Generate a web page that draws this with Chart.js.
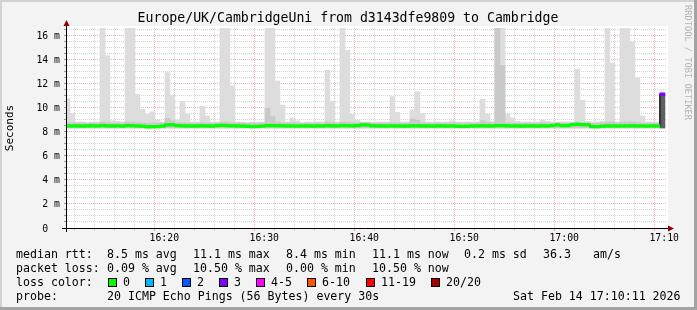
<!DOCTYPE html>
<html>
<head>
<meta charset="utf-8">
<script src="https://cdn.jsdelivr.net/npm/chart.js@4.4.1/dist/chart.umd.min.js"></script>
<style>
html, body { margin: 0; padding: 0; background: #f3f3f3; }
canvas { display: block; }
</style>
</head>
<body>
<canvas id="grafico" width="697" height="310"></canvas>
<script>
const titulo = 'Europe/UK/CambridgeUni from d3143dfe9809 to Cambridge';

// eixo do tempo em minutos depois das 16:10, um bin a cada 30 s
const tempoMin = 0.27;
const tempoMax = 60.28;
const primeiroBin = 0.32;
const passoBin = 0.5;

const yMax = 16.6;
const fumoMin = 8.3;

// topo do fumo claro (ms)
const fumoMax = [
    10.75, 9.5, 8.8, 8.8, 8.75, 8.8, 8.8, 17, 14.3, 8.9,
    8.85, 8.8, 17, 17, 11.1, 9.85, 9.45, 9.65, 8.95, 8.8,
    12.9, 11.0, 8.95, 10.5, 9.45, 8.8, 8.8, 10.1, 9.3, 8.8,
    8.8, 17, 17, 11.8, 8.8, 8.8, 8.75, 8.8, 8.8, 8.8,
    17, 17, 12.2, 10.2, 8.8, 9.15, 8.9, 8.75, 8.8, 8.8,
    8.8, 8.8, 13.1, 10.5, 8.8, 17, 14.75, 9.45, 8.95, 8.8,
    8.8, 8.8, 8.8, 8.8, 8.8, 10.9, 9.6, 8.8, 8.8, 9.8,
    11.3, 9.5, 8.8, 8.8, 8.8, 8.8, 8.8, 8.9, 8.8, 8.8,
    8.8, 8.8, 8.8, 10.7, 9.45, 8.85, 17, 17, 9.45, 9.15,
    8.85, 8.8, 8.8, 8.8, 8.8, 8.95, 8.85, 8.8, 8.8, 8.8,
    8.8, 8.8, 13.2, 10.6, 8.85, 8.8, 8.8, 8.85, 17, 13.7,
    8.8, 17, 17, 15.45, 12.45, 9.3, 8.8, 8.8, 8.8, 11.3
];

// topo do fumo mais escuro (ms)
const fumoMeio = [
    8.75, 8.72, 8.7, 8.72, 8.7, 8.72, 8.72, 8.8, 8.75, 8.72,
    8.72, 8.7, 8.8, 8.8, 8.75, 8.72, 8.7, 8.72, 8.7, 8.72,
    9.1, 8.9, 8.72, 8.75, 8.72, 8.7, 8.72, 8.75, 8.72, 8.7,
    8.72, 8.8, 8.8, 8.75, 8.72, 8.7, 8.7, 8.72, 8.7, 8.72,
    9.95, 9.25, 8.8, 8.75, 8.72, 8.75, 8.72, 8.7, 8.72, 8.7,
    8.72, 8.7, 8.8, 8.75, 8.72, 8.8, 8.8, 8.75, 8.72, 8.75,
    8.75, 8.72, 8.7, 8.72, 8.7, 8.75, 8.72, 8.7, 8.72, 9.05,
    8.95, 8.75, 8.72, 8.7, 8.72, 8.7, 8.72, 8.75, 8.72, 8.7,
    8.72, 8.7, 8.72, 8.9, 8.8, 8.72, 17, 13.5, 8.75, 8.72,
    8.72, 8.7, 8.72, 8.7, 8.72, 8.75, 8.72, 8.7, 8.75, 8.72,
    8.72, 8.75, 8.8, 8.75, 8.75, 8.7, 8.7, 8.72, 8.8, 8.8,
    8.72, 8.8, 8.8, 8.8, 8.75, 8.72, 8.7, 8.72, 8.7, 11.0
];

// rtt mediano (ms)
const mediana = [
    8.48, 8.47, 8.47, 8.46, 8.47, 8.48, 8.47, 8.5, 8.48, 8.47,
    8.47, 8.46, 8.5, 8.49, 8.47, 8.45, 8.4, 8.41, 8.42, 8.46,
    8.56, 8.57, 8.5, 8.48, 8.47, 8.46, 8.47, 8.48, 8.47, 8.46,
    8.5, 8.52, 8.5, 8.48, 8.47, 8.46, 8.44, 8.42, 8.43, 8.46,
    8.5, 8.5, 8.49, 8.48, 8.47, 8.47, 8.46, 8.47, 8.47, 8.46,
    8.47, 8.47, 8.49, 8.48, 8.47, 8.5, 8.49, 8.48, 8.5, 8.56,
    8.55, 8.48, 8.47, 8.47, 8.46, 8.47, 8.47, 8.46, 8.46, 8.48,
    8.48, 8.47, 8.47, 8.46, 8.47, 8.47, 8.46, 8.47, 8.44, 8.43,
    8.44, 8.46, 8.47, 8.48, 8.47, 8.47, 8.5, 8.5, 8.48, 8.47,
    8.47, 8.46, 8.47, 8.47, 8.46, 8.48, 8.47, 8.5, 8.56, 8.5,
    8.5, 8.58, 8.6, 8.58, 8.57, 8.42, 8.41, 8.45, 8.47, 8.47,
    8.46, 8.47, 8.48, 8.48, 8.47, 8.47, 8.46, 8.47, 8.47, 11.1
];

// nivel de perda de cada bin (indice em perdaCores)
const perda = [
    0, 0, 0, 0, 0, 0, 0, 0, 0, 0,
    0, 0, 0, 0, 0, 0, 0, 0, 0, 0,
    0, 0, 0, 0, 0, 0, 0, 0, 0, 0,
    0, 0, 0, 0, 0, 0, 0, 0, 0, 0,
    0, 0, 0, 0, 0, 0, 0, 0, 0, 0,
    0, 0, 0, 0, 0, 0, 0, 0, 0, 0,
    0, 0, 0, 0, 0, 0, 0, 0, 0, 0,
    0, 0, 0, 0, 0, 0, 0, 0, 0, 0,
    0, 0, 0, 0, 0, 0, 0, 0, 0, 0,
    0, 0, 0, 0, 0, 0, 0, 0, 0, 0,
    0, 0, 0, 0, 0, 0, 0, 0, 0, 0,
    0, 0, 0, 0, 0, 0, 0, 0, 0, 3
];

const perdaRotulos = ['0', '1', '2', '3', '4-5', '6-10', '11-19', '20/20'];
const perdaCores = ['#00ff00', '#00b8ff', '#0059ff', '#7e00ff', '#ff00ff', '#ff5500', '#ff0000', '#a10000'];
const perdaX = [108, 145, 182, 219, 256, 307, 366, 431];

const linhasLegenda = [
    [[16, 'median rtt:'], [107, '8.5 ms avg'], [193, '11.1 ms max'], [286, '8.4 ms min'],
     [372, '11.1 ms now'], [464, '0.2 ms sd'], [543, '36.3'], [593, 'am/s']],
    [[16, 'packet loss:'], [107, '0.09 % avg'], [193, '10.50 % max'], [286, '0.00 % min'],
     [372, '10.50 % now']],
    [[16, 'loss color:']],
    [[16, 'probe:'], [107, '20 ICMP Echo Pings (56 Bytes) every 30s'], [513, 'Sat Feb 14 17:10:11 2026']]
];
const linhasY = [254.5, 268.5, 282.5, 296.5];

const fonteMono = '"DejaVu Sans Mono", monospace';
const corGrade = 'rgba(170, 170, 170, 0.5)';
const corGradeMaior = 'rgba(240, 100, 100, 0.5)';

const centros = fumoMax.map((_, i) => primeiroBin + i * passoBin);

function horaDe(t) {
    const total = 10 + Math.round(t);
    const h = 16 + Math.floor(total / 60);
    const m = total % 60;
    return h + ':' + String(m).padStart(2, '0');
}

function ehMaior(v, passo) {
    return Math.abs(v / passo - Math.round(v / passo)) < 1e-6;
}

const moldura = {
    id: 'moldura',
    beforeDraw(chart) {
        const { ctx, width, height, chartArea: a } = chart;
        ctx.save();
        ctx.fillStyle = '#f3f3f3';
        ctx.fillRect(0, 0, width, height);
        ctx.fillStyle = '#d2d2d2';
        ctx.fillRect(0, 0, width, 2);
        ctx.fillRect(0, 0, 2, height);
        ctx.fillStyle = '#a3a3a3';
        ctx.fillRect(0, height - 3, width, 3);
        ctx.fillRect(width - 3, 0, 3, height);
        ctx.fillStyle = '#ffffff';
        ctx.fillRect(a.left, a.top - 2, a.right - a.left + 1, a.bottom - a.top + 2);
        ctx.restore();
    },
    afterDraw(chart) {
        const { ctx, chartArea: a } = chart;
        ctx.save();

        // eixos com setas
        ctx.strokeStyle = '#000';
        ctx.lineWidth = 1;
        ctx.beginPath();
        ctx.moveTo(a.left - 5, a.bottom + 0.5);
        ctx.lineTo(a.right + 2, a.bottom + 0.5);
        ctx.moveTo(a.left - 0.5, a.bottom + 4);
        ctx.lineTo(a.left - 0.5, a.top - 3);
        ctx.stroke();
        ctx.fillStyle = '#990000';
        ctx.beginPath();
        ctx.moveTo(a.left - 3.5, a.top - 2);
        ctx.lineTo(a.left + 2.5, a.top - 2);
        ctx.lineTo(a.left - 0.5, a.top - 8);
        ctx.closePath();
        ctx.fill();
        ctx.beginPath();
        ctx.moveTo(a.right + 1, a.bottom - 2.5);
        ctx.lineTo(a.right + 1, a.bottom + 3.5);
        ctx.lineTo(a.right + 7, a.bottom + 0.5);
        ctx.closePath();
        ctx.fill();

        // titulo
        ctx.fillStyle = '#000';
        ctx.font = '13.2px ' + fonteMono;
        ctx.textAlign = 'center';
        ctx.textBaseline = 'middle';
        ctx.fillText(titulo, 348, 19);

        // rotulo vertical
        ctx.save();
        ctx.translate(10.5, 128);
        ctx.rotate(-Math.PI / 2);
        ctx.font = '11px ' + fonteMono;
        ctx.fillText('Seconds', 0, 0);
        ctx.restore();

        ctx.save();
        ctx.translate(687.5, 5);
        ctx.rotate(Math.PI / 2);
        ctx.font = '8.7px ' + fonteMono;
        ctx.fillStyle = '#b4b4b4';
        ctx.textAlign = 'left';
        ctx.fillText('RRDTOOL / TOBI OETIKER', 0, 0);
        ctx.restore();

        // legenda
        ctx.font = '11.6px ' + fonteMono;
        ctx.textAlign = 'left';
        ctx.fillStyle = '#000';
        linhasLegenda.forEach((linha, i) => {
            linha.forEach(([x, texto]) => ctx.fillText(texto, x, linhasY[i]));
        });
        perdaRotulos.forEach((rotulo, i) => {
            const x = perdaX[i];
            ctx.fillStyle = perdaCores[i];
            ctx.fillRect(x + 0.5, linhasY[2] - 4, 8, 8);
            ctx.strokeStyle = '#000';
            ctx.strokeRect(x + 0.5, linhasY[2] - 4, 8, 8);
            ctx.fillStyle = '#000';
            ctx.fillText(rotulo, x + 15, linhasY[2]);
        });
        ctx.restore();
    }
};

Chart.defaults.font.family = fonteMono;
Chart.defaults.color = '#000';

const ctx = document.getElementById('grafico').getContext('2d');
const grafico = new Chart(ctx, {
    data: {
        datasets: [{
            type: 'bar',
            label: 'fumo',
            data: centros.map((t, i) => ({ x: t, y: [fumoMin, fumoMax[i]] })),
            backgroundColor: '#dddddd',
            order: 5
        }, {
            type: 'bar',
            label: 'fumo denso',
            data: centros.map((t, i) => ({ x: t, y: [fumoMin, fumoMeio[i]] })),
            backgroundColor: centros.map((t, i) => perda[i] > 0 ? '#606060' : '#c9c9c9'),
            order: 4
        }, {
            type: 'line',
            label: 'mediana',
            data: centros.map((t, i) => ({ x: t, y: mediana[i] })),
            stepped: 'middle',
            borderColor: '#202020',
            borderWidth: 1.5,
            pointRadius: 0,
            order: 2
        }, {
            type: 'bar',
            label: 'perda',
            data: centros.map((t, i) => ({ x: t, y: [mediana[i] - 0.11, mediana[i] + 0.11] })),
            backgroundColor: perda.map(p => perdaCores[p]),
            order: 1
        }]
    },
    options: {
        responsive: false,
        animation: false,
        devicePixelRatio: 1,
        layout: { padding: { top: 28, right: 30, left: 0, bottom: 0 } },
        datasets: {
            bar: { barPercentage: 1, categoryPercentage: 1, grouped: false, clip: 0 },
            line: { clip: 0 }
        },
        plugins: {
            legend: { display: false },
            tooltip: { enabled: false }
        },
        scales: {
            x: {
                type: 'linear',
                min: tempoMin,
                max: tempoMax,
                offset: false,
                z: 1,
                afterFit: (escala) => { escala.height = 82; },
                border: { display: false, dash: [1, 1] },
                grid: {
                    color: (c) => c.tick && ehMaior(c.tick.value, 10) ? corGradeMaior : corGrade,
                    tickColor: (c) => c.tick && ehMaior(c.tick.value, 10) ? corGradeMaior : corGrade,
                    tickLength: 3,
                    lineWidth: 1
                },
                ticks: {
                    stepSize: 2,
                    includeBounds: false,
                    autoSkip: false,
                    maxRotation: 0,
                    minRotation: 0,
                    padding: 2,
                    font: { size: 9.8 },
                    callback: (v) => ehMaior(v, 10) ? horaDe(v) : ''
                }
            },
            y: {
                type: 'linear',
                min: 0,
                max: yMax,
                z: 1,
                afterFit: (escala) => { escala.width = 67; },
                border: { display: false, dash: [1, 1] },
                grid: {
                    color: (c) => c.tick && ehMaior(c.tick.value, 2) ? corGradeMaior : corGrade,
                    tickColor: '#999999',
                    tickLength: 3,
                    lineWidth: 1
                },
                ticks: {
                    stepSize: 0.5,
                    includeBounds: false,
                    autoSkip: false,
                    padding: 4,
                    labelOffset: 1,
                    font: { size: 9.8 },
                    callback: (v) => !ehMaior(v, 2) ? '' : (v === 0 ? '0  ' : v + ' m')
                }
            }
        }
    },
    plugins: [moldura]
});
</script>
</body>
</html>
